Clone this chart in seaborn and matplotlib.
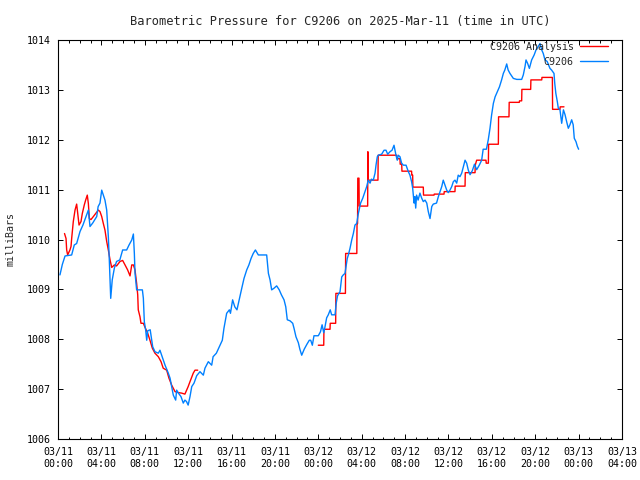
import matplotlib
matplotlib.use("Agg")
import matplotlib.pyplot as plt
import numpy as np
import pandas as pd
import seaborn as sns

# =====================================================
# DATA (hours after 2025-03-11 00:00 UTC, milliBars)
# =====================================================

station_hours = [
    0.18, 0.4, 0.65, 1.26, 1.5, 1.72, 2.03, 2.3, 2.64, 2.8, 2.95, 3.2, 3.57, 3.7, 3.87,
    4.03, 4.18, 4.33, 4.49, 4.64, 4.73, 4.86, 5.0, 5.2, 5.4, 5.7, 5.96, 6.33, 6.55, 6.8,
    6.95, 7.04, 7.1, 7.25, 7.78, 7.87, 7.96, 8.08, 8.18, 8.27, 8.5, 8.73, 8.94, 9.25, 9.4,
    9.56, 9.87, 10.17, 10.33, 10.48, 10.63, 10.85, 10.94, 11.1, 11.34, 11.55, 11.7, 11.85,
    12.0, 12.17, 12.33, 12.54, 12.79, 13.09, 13.4, 13.55, 13.86, 14.17, 14.3, 14.6, 14.94,
    15.15, 15.3, 15.55, 15.8, 15.9, 16.1, 16.3, 16.5, 16.7, 16.94, 17.15, 17.4, 17.6, 17.8,
    18.0, 18.2, 18.47, 19.24, 19.4, 19.55, 19.7, 19.9, 20.16, 20.4, 20.6, 20.84, 21.0,
    21.14, 21.39, 21.64, 21.76, 21.94, 22.16, 22.3, 22.47, 22.7, 22.95, 23.17, 23.3, 23.45,
    23.6, 24.0, 24.2, 24.35, 24.5, 24.6, 24.77, 24.92, 25.1, 25.23, 25.54, 25.65, 25.77,
    25.9, 26.0, 26.16, 26.3, 26.46, 26.55, 26.67, 26.77, 26.92, 27.08, 27.23, 27.38, 27.54,
    27.69, 27.9, 28.1, 28.3, 28.46, 28.6, 28.77, 28.9, 29.07, 29.23, 29.32, 29.44, 29.53,
    29.84, 30.06, 30.24, 30.4, 30.61, 30.8, 30.98, 31.16, 31.28, 31.37, 31.53, 31.68, 31.84,
    32.09, 32.3, 32.45, 32.6, 32.7, 32.83, 32.9, 32.98, 33.06, 33.2, 33.37, 33.53, 33.68,
    33.84, 34.0, 34.14, 34.3, 34.46, 34.6, 34.9, 35.07, 35.22, 35.38, 35.52, 35.68, 35.84,
    35.98, 36.14, 36.3, 36.45, 36.6, 36.76, 36.9, 37.06, 37.22, 37.37, 37.53, 37.68, 37.83,
    37.99, 38.2, 38.4, 38.6, 38.84, 39.06, 39.2, 39.5, 39.67, 39.83, 39.98, 40.14, 40.3,
    40.5, 40.7, 40.9, 41.06, 41.2, 41.37, 41.5, 41.67, 41.98, 42.3, 42.75, 42.9, 43.06,
    43.15, 43.3, 43.46, 43.58, 43.67, 43.9, 44.07, 44.28, 44.44, 44.6, 44.74, 44.9, 45.1,
    45.36, 45.5, 45.73, 45.8, 45.9, 46.04, 46.13, 46.28, 46.44, 46.6, 46.75, 46.9, 47.05,
    47.2, 47.36, 47.5, 47.6, 47.76, 47.88, 48.0,
]
station_mb = [
    1009.29, 1009.5, 1009.67, 1009.69, 1009.89, 1009.92, 1010.16, 1010.29, 1010.49, 1010.59,
    1010.26, 1010.33, 1010.46, 1010.66, 1010.73, 1010.99, 1010.89, 1010.79, 1010.59, 1010.06,
    1009.59, 1008.82, 1009.19, 1009.43, 1009.56, 1009.59, 1009.79, 1009.79, 1009.89, 1009.99,
    1010.11, 1009.72, 1009.33, 1008.99, 1008.99, 1008.82, 1008.35, 1008.19, 1007.98, 1008.17,
    1008.19, 1007.85, 1007.75, 1007.72, 1007.78, 1007.68, 1007.48, 1007.32, 1007.22, 1007.05,
    1006.88, 1006.78, 1006.98, 1006.92, 1006.85, 1006.72, 1006.78, 1006.75, 1006.68, 1006.85,
    1007.05, 1007.12, 1007.27, 1007.35, 1007.28, 1007.42, 1007.55, 1007.48, 1007.65, 1007.72,
    1007.88, 1007.98, 1008.22, 1008.52, 1008.59, 1008.52, 1008.79, 1008.65, 1008.59, 1008.79,
    1009.02, 1009.22, 1009.39, 1009.49, 1009.62, 1009.72, 1009.79, 1009.69, 1009.69, 1009.32,
    1009.19, 1008.99, 1009.02, 1009.07, 1008.99, 1008.89, 1008.79, 1008.65, 1008.39, 1008.37,
    1008.32, 1008.22, 1008.05, 1007.93, 1007.8, 1007.68, 1007.8, 1007.9, 1007.98, 1007.98,
    1007.88, 1008.07, 1008.07, 1008.15, 1008.29, 1008.13, 1008.23, 1008.43, 1008.49, 1008.59,
    1008.49, 1008.49, 1008.72, 1008.87, 1008.92, 1008.95, 1009.25, 1009.29, 1009.32, 1009.45,
    1009.62, 1009.69, 1009.82, 1009.99, 1010.12, 1010.29, 1010.32, 1010.52, 1010.73, 1010.83,
    1010.96, 1011.06, 1011.19, 1011.13, 1011.21, 1011.19, 1011.33, 1011.49, 1011.66, 1011.69,
    1011.71, 1011.79, 1011.79, 1011.71, 1011.76, 1011.79, 1011.89, 1011.69, 1011.59, 1011.69,
    1011.66, 1011.53, 1011.49, 1011.49, 1011.36, 1011.29, 1011.16, 1011.03, 1010.73, 1010.86,
    1010.63, 1010.89, 1010.79, 1010.93, 1010.83, 1010.76, 1010.79, 1010.73, 1010.56, 1010.42,
    1010.66, 1010.71, 1010.73, 1010.86, 1010.96, 1011.06, 1011.19, 1011.09, 1010.99, 1010.94,
    1010.99, 1011.06, 1011.16, 1011.19, 1011.13, 1011.29, 1011.26, 1011.33, 1011.46, 1011.59,
    1011.53, 1011.39, 1011.3, 1011.38, 1011.51, 1011.4, 1011.49, 1011.59, 1011.81, 1011.81,
    1012.0, 1012.23, 1012.5, 1012.73, 1012.86, 1012.96, 1013.06, 1013.2, 1013.33, 1013.4,
    1013.52, 1013.4, 1013.33, 1013.23, 1013.21, 1013.21, 1013.3, 1013.47, 1013.6, 1013.53,
    1013.43, 1013.53, 1013.6, 1013.7, 1013.8, 1013.87, 1013.93, 1013.8, 1013.73, 1013.6,
    1013.57, 1013.43, 1013.4, 1013.33, 1013.13, 1012.93, 1012.76, 1012.63, 1012.6, 1012.33,
    1012.6, 1012.5, 1012.36, 1012.23, 1012.3, 1012.4, 1012.3, 1012.03, 1011.96, 1011.87,
    1011.81,
]

# analysis, first run (03/11 morning)
analysis1_hours = [
    0.6, 0.74, 0.8, 0.89, 1.1, 1.2, 1.26, 1.41, 1.57, 1.72, 1.82, 1.94, 2.12, 2.24, 2.42,
    2.55, 2.7, 2.8, 2.89, 3.04, 3.26, 3.47, 3.72, 3.87, 4.03, 4.18, 4.33, 4.49, 4.64, 4.8,
    4.95, 5.2, 5.4, 5.72, 5.96, 6.18, 6.42, 6.64, 6.8, 6.95, 7.1, 7.25, 7.35, 7.4, 7.56,
    7.65, 7.87, 8.0, 8.27, 8.48, 8.7, 8.94, 9.25, 9.5, 9.7, 10.02, 10.23, 10.48, 10.79,
    11.1, 11.4, 11.7, 11.86, 12.0, 12.17, 12.33, 12.47, 12.63, 12.88,
]
analysis1_mb = [
    1010.12, 1010.02, 1009.79, 1009.69, 1009.79, 1009.86, 1010.02, 1010.36, 1010.59, 1010.71,
    1010.52, 1010.29, 1010.36, 1010.52, 1010.69, 1010.79, 1010.89, 1010.72, 1010.42, 1010.4,
    1010.46, 1010.52, 1010.59, 1010.56, 1010.46, 1010.32, 1010.19, 1009.96, 1009.79, 1009.59,
    1009.44, 1009.49, 1009.47, 1009.56, 1009.58, 1009.49, 1009.39, 1009.27, 1009.49, 1009.49,
    1009.39, 1009.12, 1008.89, 1008.59, 1008.45, 1008.32, 1008.32, 1008.25, 1008.12, 1007.98,
    1007.82, 1007.72, 1007.65, 1007.55, 1007.42, 1007.38, 1007.22, 1007.08, 1006.95, 1006.93,
    1006.92, 1006.9, 1006.98, 1007.05, 1007.15, 1007.24, 1007.32, 1007.38, 1007.38,
]

# analysis, second run (03/12 onwards)
analysis2_hours = [
    24.0, 24.5, 24.52, 25.08, 25.1, 25.6, 25.62, 26.5, 26.52, 27.55, 27.57, 27.62, 27.64,
    27.75, 27.77, 28.55, 28.57, 28.6, 29.5, 29.52, 31.23, 31.25, 31.53, 31.55, 31.69, 31.71,
    32.6, 32.62, 32.7, 32.72, 33.68, 33.7, 34.67, 34.69, 35.59, 35.61, 36.6, 36.62, 37.53,
    37.55, 38.45, 38.47, 38.6, 39.46, 39.48, 39.68, 39.7, 40.6, 40.62, 41.58, 41.6, 42.53,
    42.55, 42.75, 42.77, 43.58, 43.6, 44.6, 44.62, 45.58, 45.6, 46.28, 46.3, 46.65,
]
analysis2_mb = [
    1007.88, 1007.88, 1008.2, 1008.2, 1008.32, 1008.32, 1008.92, 1008.92, 1009.72, 1009.72,
    1010.32, 1010.32, 1011.23, 1011.23, 1010.67, 1010.67, 1011.76, 1011.19, 1011.19, 1011.69,
    1011.69, 1011.62, 1011.62, 1011.51, 1011.51, 1011.37, 1011.37, 1011.29, 1011.29, 1011.05,
    1011.05, 1010.89, 1010.89, 1010.91, 1010.91, 1010.96, 1010.96, 1011.07, 1011.07, 1011.34,
    1011.34, 1011.49, 1011.59, 1011.59, 1011.53, 1011.53, 1011.91, 1011.91, 1012.46, 1012.46,
    1012.75, 1012.75, 1012.78, 1012.78, 1013.01, 1013.01, 1013.2, 1013.2, 1013.25, 1013.25,
    1012.61, 1012.61, 1012.66, 1012.66,
]

tick_hours = [0, 4, 8, 12, 16, 20, 24, 28, 32, 36, 40, 44, 48, 52]
tick_labels = [
    "03/11\n00:00", "03/11\n04:00", "03/11\n08:00", "03/11\n12:00", "03/11\n16:00",
    "03/11\n20:00", "03/12\n00:00", "03/12\n04:00", "03/12\n08:00", "03/12\n12:00",
    "03/12\n16:00", "03/12\n20:00", "03/13\n00:00", "03/13\n04:00",
]

# =====================================================
# STYLE
# =====================================================

sns.set_style("ticks")
plt.rcParams["font.family"] = ["DejaVu Sans Mono"]
plt.rcParams["font.size"] = 7.2

RED = "#ff0000"
BLUE = "#0080ff"

fig = plt.figure(figsize=(6.4, 4.8), dpi=100)
ax = fig.add_axes([58 / 640, 41 / 480, 564 / 640, 399 / 480])

# =====================================================
# LINES
# =====================================================

sns.lineplot(
    x=analysis1_hours, y=analysis1_mb, ax=ax, color=RED, linewidth=1.0,
    estimator=None, sort=False, label="C9206 Analysis"
)
sns.lineplot(
    x=analysis2_hours, y=analysis2_mb, ax=ax, color=RED, linewidth=1.0,
    estimator=None, sort=False
)
sns.lineplot(
    x=station_hours, y=station_mb, ax=ax, color=BLUE, linewidth=1.0,
    estimator=None, sort=False, label="C9206"
)

# =====================================================
# AXES
# =====================================================

ax.set_xlim(0, 52)
ax.set_ylim(1006, 1014)
ax.set_xticks(tick_hours)
ax.set_xticklabels(tick_labels, linespacing=1.15)
ax.set_xticks(np.arange(0, 53, 1), minor=True)
ax.set_yticks(np.arange(1006, 1015, 1))

ax.tick_params(axis="both", which="both", direction="in", top=True, right=True,
               colors="black", width=0.7)
ax.tick_params(axis="both", which="major", length=3.5)
ax.tick_params(axis="x", which="minor", length=1.8)
ax.tick_params(axis="x", which="major", pad=6)
ax.tick_params(axis="y", which="major", pad=5)

for spine in ax.spines.values():
    spine.set_visible(True)
    spine.set_linewidth(0.8)
    spine.set_color("black")

ax.set_xlabel("")
ax.set_ylabel("milliBars")
ax.yaxis.set_label_coords(-0.076, 0.5)

ax.set_title("Barometric Pressure for C9206 on 2025-Mar-11 (time in UTC)", pad=11)

ax.legend(
    loc="upper right", frameon=False, markerfirst=False, alignment="right",
    handlelength=2.8, handletextpad=0.6, labelspacing=0.5,
    borderpad=0.2, borderaxespad=0.0, bbox_to_anchor=(0.978, 1.0)
)

plt.savefig("out.png", dpi=100)
plt.close()
